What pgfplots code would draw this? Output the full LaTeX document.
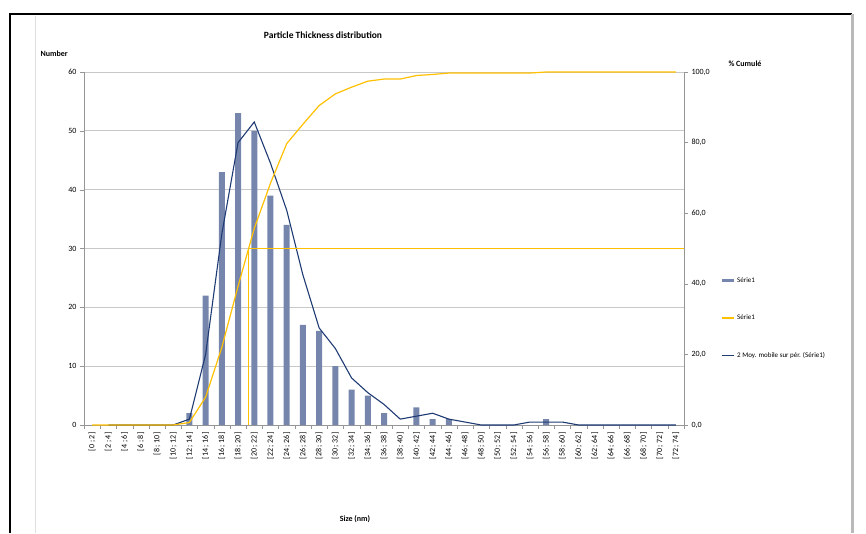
\documentclass[border=0pt]{standalone}
\usepackage{pgfplots}
\pgfplotsset{compat=1.18}
\usepackage{fontspec}
\setmainfont{Carlito}

\definecolor{barblue}{RGB}{117,133,172}
\definecolor{cumyellow}{RGB}{255,192,0}
\definecolor{mavg}{RGB}{31,59,115}
\definecolor{gridgray}{RGB}{200,200,200}
\definecolor{axgray}{RGB}{150,150,150}

% counts per size class
\pgfplotstableread{
x  n
0  0
1  0
2  0
3  0
4  0
5  0
6  2
7  22
8  43
9  53
10 50
11 39
12 34
13 17
14 16
15 10
16 6
17 5
18 2
19 0
20 3
21 1
22 1
23 0
24 0
25 0
26 0
27 0
28 1
29 0
30 0
31 0
32 0
33 0
34 0
35 0
36 0
}\counts

% cumulated percentage
\pgfplotstableread{
x  c
0  0
1  0
2  0
3  0
4  0
5  0
6  0.7
7  7.9
8  22.0
9  39.3
10 55.7
11 68.5
12 79.7
13 85.2
14 90.5
15 93.8
16 95.7
17 97.4
18 98.0
19 98.0
20 99.0
21 99.3
22 99.7
23 99.7
24 99.7
25 99.7
26 99.7
27 99.7
28 100
29 100
30 100
31 100
32 100
33 100
34 100
35 100
36 100
}\cumul

% 2-period moving average
\pgfplotstableread{
x  m
1  0
2  0
3  0
4  0
5  0
6  1
7  12
8  32.5
9  48
10 51.5
11 44.5
12 36.5
13 25.5
14 16.5
15 13
16 8
17 5.5
18 3.5
19 1
20 1.5
21 2
22 1
23 0.5
24 0
25 0
26 0
27 0.5
28 0.5
29 0.5
30 0
31 0
32 0
33 0
34 0
35 0
36 0
}\mavg

\newcommand{\tickfont}{\fontsize{8}{9.6}\selectfont}
\newcommand{\ttlfont}{\bfseries\fontsize{8}{10}\selectfont}

\begin{document}
\begin{tikzpicture}
\useasboundingbox (0pt,0pt) rectangle (866pt,533pt);
% frame of the sheet
\draw[black, line width=1.5pt] (10pt,0pt) -- (10pt,519pt) -- (852pt,519pt);
\draw[gray!55, line width=3pt] (852pt,519pt) -- (852pt,0pt);
\draw[gray!25, line width=0.8pt] (35pt,517pt) -- (35pt,0pt);

\node[font=\bfseries\fontsize{9.5}{11}\selectfont] at (323pt,498pt) {Particle Thickness distribution};
\node[font=\ttlfont, anchor=west] at (37pt,479pt) {Number};
\node[font=\ttlfont, anchor=west] at (725pt,469pt) {\% Cumulé};
\node[font=\ttlfont] at (355pt,14pt) {Size (nm)};

\begin{axis}[
    at={(84pt,108pt)}, anchor=south west,
    scale only axis, width=600pt, height=353pt,
    xmin=-0.5, xmax=36.5, ymin=0, ymax=60,
    axis y line*=left, axis x line*=bottom,
    axis line style={axgray},
    tick align=outside,
    ytick={0,10,...,60},
    ymajorgrids, grid style={gridgray, line width=0.8pt},
    y tick style={axgray},
    major tick length=4pt, minor tick length=4pt,
    xtick={0,...,36},
    major x tick style={draw=none},
    minor xtick={-0.5,0.5,...,36.5},
    minor x tick style={axgray},
    xticklabels={[0 ; 2],[2 ; 4],[4 ; 6],[6 ; 8],[8 ; 10],[10 ; 12],[12 ; 14],[14 ; 16],[16 ; 18],[18 ; 20],[20 ; 22],[22 ; 24],[24 ; 26],[26 ; 28],[28 ; 30],[30 ; 32],[32 ; 34],[34 ; 36],[36 ; 38],[38 ; 40],[40 ; 42],[42 ; 44],[44 ; 46],[46 ; 48],[48 ; 50],[50 ; 52],[52 ; 54],[54 ; 56],[56 ; 58],[58 ; 60],[60 ; 62],[62 ; 64],[64 ; 66],[66 ; 68],[68 ; 70],[70 ; 72],[72 ; 74]},
    xticklabel style={rotate=90, anchor=east, font=\tickfont},
    yticklabel style={font=\tickfont},
    /pgf/number format/assume math mode=true,
  ]
  \addplot[ybar, bar width=6pt, fill=barblue, draw=none] table[x=x, y=n] {\counts};
  \addplot[mavg, line width=1.1pt] table[x=x, y=m] {\mavg};
\end{axis}

\begin{axis}[
    at={(84pt,108pt)}, anchor=south west,
    scale only axis, width=600pt, height=353pt,
    xmin=-0.5, xmax=36.5, ymin=0, ymax=100,
    axis y line*=right, axis x line=none,
    axis line style={axgray},
    tick align=outside, major tick length=4pt,
    y tick style={axgray},
    ytick={0,20,...,100},
    yticklabel style={font=\tickfont, /pgf/number format/.cd, fixed, fixed zerofill, precision=1, use comma},
    /pgf/number format/assume math mode=true,
    legend cell align=left,
    legend style={at={(axis description cs:1.055,0.43)}, anchor=north west,
      draw=none, fill=none, font=\fontsize{7}{8.5}\selectfont, row sep=27pt},
    legend image code/.code={\draw[#1] (0pt,0pt) -- (12pt,0pt);},
  ]
  \addlegendimage{barblue, line width=3pt}
  \addlegendentry{Série1}
  \addlegendimage{cumyellow, line width=2.5pt}
  \addlegendentry{Série1}
  \addlegendimage{mavg, line width=1.3pt}
  \addlegendentry{2 Moy. mobile sur pér. (Série1)}
  \addplot[cumyellow, line width=1.2pt, forget plot] table[x=x, y=c] {\cumul};
  \addplot[cumyellow, line width=1.2pt, forget plot] coordinates {(9.65,0) (9.65,50) (36.5,50)};
\end{axis}
\end{tikzpicture}
\end{document}
